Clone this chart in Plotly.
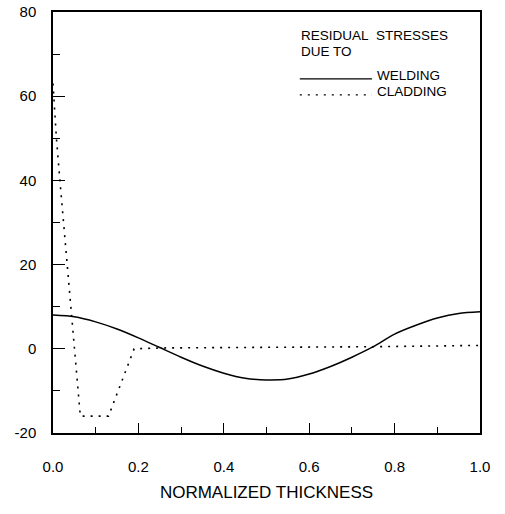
import plotly.graph_objects as go

# Normalized thickness positions and residual stress values
weld_x = [0.0, 0.05, 0.10, 0.15, 0.20, 0.25, 0.30, 0.35, 0.40, 0.45, 0.50,
          0.55, 0.60, 0.65, 0.70, 0.75, 0.80, 0.85, 0.90, 0.95, 1.0]
weld_y = [8.0, 7.6, 6.4, 4.7, 2.6, 0.3, -2.0, -4.1, -5.8, -7.0, -7.4,
          -7.2, -6.0, -4.2, -2.0, 0.5, 3.5, 5.6, 7.3, 8.4, 8.8]

clad_x = [0.0, 0.008, 0.017, 0.030, 0.041, 0.064, 0.130, 0.190, 0.25, 0.50, 0.75, 1.0]
clad_y = [63.0, 50.0, 39.0, 24.0, 10.5, -16.0, -16.0, 0.0, 0.2, 0.3, 0.5, 0.8]

x_ticks = [0.0, 0.2, 0.4, 0.6, 0.8, 1.0]
x_tick_text = ["0.0", "0.2", "0.4", "0.6", "0.8", "1.0"]
y_ticks = [-20, 0, 20, 40, 60, 80]
y_tick_text = ["-20", "0", "20", "40", "60", "80"]

legend_heading = ["RESIDUAL&nbsp;&nbsp;STRESSES", "DUE TO"]
legend_names = ["WELDING", "CLADDING"]

FONT = "Liberation Sans, Arial, sans-serif"
DOT = "2px,6px"

fig = go.Figure()
fig.add_trace(go.Scatter(
    x=weld_x, y=weld_y, mode="lines", name=legend_names[0],
    line=dict(color="black", width=1.5, shape="spline", smoothing=0.8),
))
fig.add_trace(go.Scatter(
    x=clad_x, y=clad_y, mode="lines", name=legend_names[1],
    line=dict(color="black", width=1.6, dash=DOT),
))

# Hand-built key in the upper right of the frame
key_left, key_right, text_x = 0.578, 0.747, 0.756
heading_y = [0.943, 0.907]
row_y = [0.850, 0.812]
row_dash = ["solid", DOT]
key_font = dict(size=13.5, family=FONT, color="black")

for txt, yy in zip(legend_heading, heading_y):
    fig.add_annotation(x=key_left, y=yy, xref="paper", yref="paper",
                       text=txt, showarrow=False, xanchor="left", yanchor="middle",
                       borderpad=0, font=key_font)
for name, yy, dash in zip(legend_names, row_y, row_dash):
    fig.add_shape(type="line", xref="paper", yref="paper",
                  x0=key_left, x1=key_right, y0=yy - 0.009, y1=yy - 0.009,
                  line=dict(color="black", width=1.3, dash=dash))
    fig.add_annotation(x=text_x, y=yy, xref="paper", yref="paper",
                       text=name, showarrow=False, xanchor="left", yanchor="middle",
                       borderpad=0, font=key_font)

fig.update_layout(
    width=505, height=514,
    margin=dict(l=53, r=25, t=12, b=81),
    paper_bgcolor="white", plot_bgcolor="white",
    font=dict(family=FONT, color="black", size=15),
    showlegend=False,
    xaxis=dict(
        range=[0, 1], tickvals=x_ticks, ticktext=x_tick_text,
        ticks="inside", ticklen=10, tickwidth=1.2, tickcolor="black",
        minor=dict(dtick=0.1, ticks="inside", ticklen=6, tickwidth=1.2, tickcolor="black"),
        showline=True, linecolor="black", linewidth=1.5, mirror=True,
        showgrid=False, zeroline=False, ticklabelstandoff=19,
        tickfont=dict(size=15), automargin=False,
        title=dict(text="NORMALIZED THICKNESS", font=dict(size=17), standoff=12),
    ),
    yaxis=dict(
        range=[-20, 80], tickvals=y_ticks, ticktext=y_tick_text,
        ticks="inside", ticklen=12, tickwidth=1.2, tickcolor="black",
        minor=dict(dtick=10, ticks="inside", ticklen=7, tickwidth=1.2, tickcolor="black"),
        showline=True, linecolor="black", linewidth=1.5, mirror=True,
        showgrid=False, zeroline=False, ticklabelstandoff=12,
        tickfont=dict(size=15), automargin=False,
    ),
)

fig.write_html("out.html")
